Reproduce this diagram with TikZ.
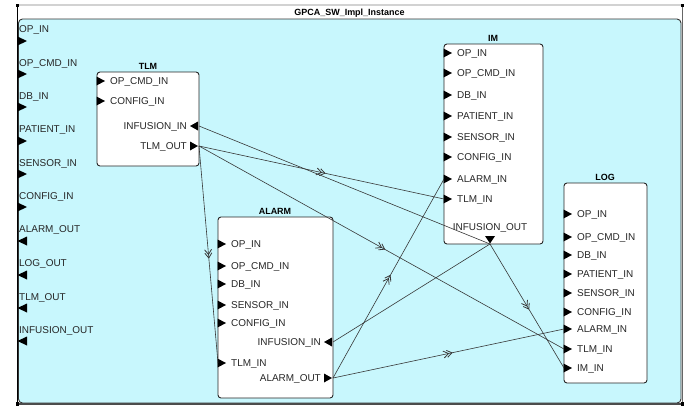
\documentclass[tikz,border=0pt]{standalone}
\usepackage{fontspec}
\setmainfont{Liberation Sans}
\usetikzlibrary{decorations.markings}
\definecolor{bgcyan}{RGB}{200,247,253}
\definecolor{wire}{RGB}{55,55,55}
\tikzset{
  box/.style={draw=black!85, line width=0.9bp, fill=white, rounded corners=3bp, inner sep=0, outer sep=0},
  ttl/.style={font=\fontsize{9}{10}\selectfont\bfseries, inner sep=0},
  lbl/.style={font=\fontsize{10}{11}\selectfont, inner sep=0, text=black!85},
  wirestyle/.style={draw=wire, line width=0.6bp},
  flow/.style={wirestyle, postaction={decorate},
    decoration={markings, mark=at position 0.5 with {\draw[wire, line width=0.8bp] (-5,-3.5)--(0,0)--(-5,3.5) (-1.5,-3.5)--(3.5,0)--(-1.5,3.5);}}},
}
% input port on a left edge: name, x, y, label
\newcommand\inport[4]{%
  \coordinate (#1) at (#2,#3);
  \fill[black] (#2-0.5,#3-4.5) -- (#2-0.5,#3+4.5) -- (#2+8,#3) -- cycle;
  \node[lbl, anchor=base west] at (#2+13,#3+3.6) {#4};}
% input port on a right edge (left pointing)
\newcommand\rinport[4]{%
  \coordinate (#1) at (#2,#3);
  \fill[black] (#2-1,#3-4.5) -- (#2-1,#3+4.5) -- (#2-9,#3) -- cycle;
  \node[lbl, anchor=base east] at (#2-12,#3+3.6) {#4};}
% output port on a right edge (right pointing)
\newcommand\routport[4]{%
  \coordinate (#1) at (#2,#3);
  \fill[black] (#2-9,#3-4.5) -- (#2-9,#3+4.5) -- (#2-1,#3) -- cycle;
  \node[lbl, anchor=base east] at (#2-12,#3+3.6) {#4};}
% frame ports: label y, triangle y, label
\newcommand\frin[3]{%
  \node[lbl, anchor=base west] at (19,#1+3.6) {#3};
  \fill[black] (17.5,#2-4.5) -- (17.5,#2+4.5) -- (27,#2) -- cycle;}
\newcommand\frout[3]{%
  \node[lbl, anchor=base west] at (19,#1+3.6) {#3};
  \fill[black] (27,#2-4.5) -- (27,#2+4.5) -- (17.5,#2) -- cycle;}
\begin{document}
\begin{tikzpicture}[x=1bp,y=-1bp]
\fill[white] (0,0) rectangle (693,406);
\useasboundingbox (0,0) rectangle (693,406);
% outer frame
\draw[gray!35, line width=1.5bp] (17,5) -- (682,5);
\node[ttl] (title) at (349.5,13) {GPCA\_SW\_Impl\_Instance};
\node[draw=black!80, fill=bgcyan, line width=0.9bp, rounded corners=4bp, anchor=north west,
  minimum width=662.5bp, minimum height=384bp, inner sep=0, outer sep=0] (frame) at (18.5,19) {};
\draw[black!70, line width=2bp] (17,403.5) -- (682,403.5);
\draw[black, line width=1.6bp] (17.5,5) -- (17.5,404);
\draw[black!60, line width=1bp] (682,5) -- (682,404);
\fill[black] (15.5,3.5) rectangle (19,7);
\fill[black] (680.5,3.5) rectangle (684,7);
\fill[black] (680.5,402) rectangle (684,405.5);
\fill[black] (15.5,402) rectangle (19,405.5);
% frame ports
\frin{29}{41}{OP\_IN}
\frin{63}{74}{OP\_CMD\_IN}
\frin{96}{107}{DB\_IN}
\frin{129}{141}{PATIENT\_IN}
\frin{163}{174}{SENSOR\_IN}
\frin{196}{207}{CONFIG\_IN}
\frout{229}{241}{ALARM\_OUT}
\frout{263}{275}{LOG\_OUT}
\frout{297}{308}{TLM\_OUT}
\frout{330}{341}{INFUSION\_OUT}
% TLM
\node[ttl, anchor=base] (tlmt) at (148,69.3) {TLM};
\node[box, anchor=north west, minimum width=102bp, minimum height=94bp] (tlm) at (97,72) {};
\inport{tlm-opcmd}{97}{81}{OP\_CMD\_IN}
\inport{tlm-config}{97}{101}{CONFIG\_IN}
\rinport{tlm-infin}{199}{126}{INFUSION\_IN}
\routport{tlm-tlmout}{199}{146}{TLM\_OUT}
% IM
\node[ttl, anchor=base] (imt) at (493,41.3) {IM};
\node[box, anchor=north west, minimum width=99bp, minimum height=200bp] (im) at (444,44) {};
\inport{im-op}{444}{53}{OP\_IN}
\inport{im-opcmd}{444}{73}{OP\_CMD\_IN}
\inport{im-db}{444}{95}{DB\_IN}
\inport{im-patient}{444}{116}{PATIENT\_IN}
\inport{im-sensor}{444}{137}{SENSOR\_IN}
\inport{im-config}{444}{157}{CONFIG\_IN}
\inport{im-alarmin}{444}{179}{ALARM\_IN}
\inport{im-tlmin}{444}{199}{TLM\_IN}
\coordinate (im-infout) at (490,244);
\fill[black] (485,236) -- (495,236) -- (490,243.5) -- cycle;
\node[lbl, anchor=base] at (490,230.6) {INFUSION\_OUT};
% LOG
\node[ttl, anchor=base] (logt) at (605,180.3) {LOG};
\node[box, anchor=north west, minimum width=83bp, minimum height=200bp] (log) at (564,183) {};
\inport{log-op}{564}{214}{OP\_IN}
\inport{log-opcmd}{564}{237}{OP\_CMD\_IN}
\inport{log-db}{564}{255}{DB\_IN}
\inport{log-patient}{564}{274}{PATIENT\_IN}
\inport{log-sensor}{564}{293}{SENSOR\_IN}
\inport{log-config}{564}{312}{CONFIG\_IN}
\inport{log-alarmin}{564}{329}{ALARM\_IN}
\inport{log-tlmin}{564}{349}{TLM\_IN}
\inport{log-imin}{564}{368}{IM\_IN}
% ALARM
\node[ttl, anchor=base] (alarmt) at (275,214.3) {ALARM};
\node[box, anchor=north west, minimum width=115bp, minimum height=181bp] (alarm) at (218,217) {};
\inport{alarm-op}{218}{244}{OP\_IN}
\inport{alarm-opcmd}{218}{266}{OP\_CMD\_IN}
\inport{alarm-db}{218}{284}{DB\_IN}
\inport{alarm-sensor}{218}{305}{SENSOR\_IN}
\inport{alarm-config}{218}{323}{CONFIG\_IN}
\rinport{alarm-infin}{333}{342}{INFUSION\_IN}
\inport{alarm-tlmin}{218}{363}{TLM\_IN}
\routport{alarm-alarmout}{333}{378}{ALARM\_OUT}
% connectors
\draw[flow] (tlm-tlmout) -- (im-tlmin);
\draw[flow] (tlm-tlmout) -- (alarm-tlmin);
\draw[flow] (tlm-tlmout) -- (log-tlmin);
\draw[wirestyle] (im-infout) -- (tlm-infin);
\draw[wirestyle] (im-infout) -- (alarm-infin);
\draw[flow] (im-infout) -- (log-imin);
\draw[flow] (alarm-alarmout) -- (im-alarmin);
\draw[flow] (alarm-alarmout) -- (log-alarmin);
\end{tikzpicture}
\end{document}
